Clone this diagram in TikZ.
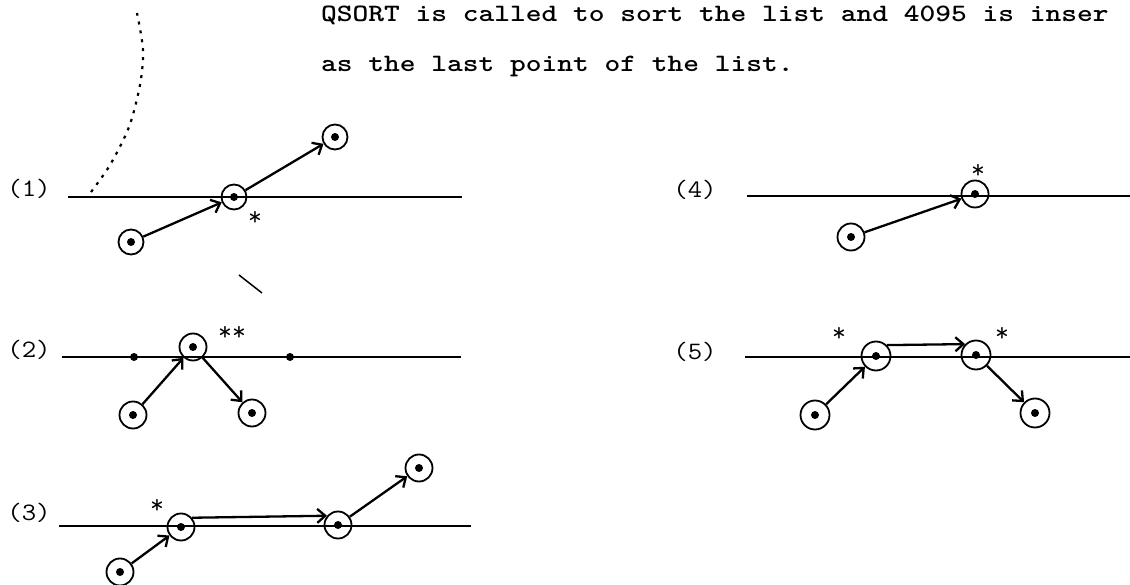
\documentclass[tikz,border=0pt]{standalone}
\usetikzlibrary{arrows.meta}
\tikzset{
  pt/.style={circle, draw, line width=1.8pt, minimum size=27pt, inner sep=0pt,
    path picture={\fill (path picture bounding box.center) circle (4pt);}},
  baseline/.style={line width=2.6pt},
  arr/.style={line width=2.3pt, -{Straight Barb[length=8pt,width=14pt,line width=2.3pt]}},
  lab/.style={font=\fontsize{25}{25}\selectfont\ttfamily, inner sep=0pt},
  star/.style={font=\fontsize{27}{27}\selectfont\ttfamily, inner sep=0pt},
  ldot/.style={circle, fill, minimum size=8pt, inner sep=0pt},
  txt/.style={font=\fontsize{25}{25}\selectfont\ttfamily\bfseries, inner sep=0pt, anchor=base west},
}
\begin{document}
\begin{tikzpicture}[x=1pt,y=-1pt]
\useasboundingbox (0,0) rectangle (1130,585);

% heading text
\node[txt] (t1) at (321,22) {\scalebox{1.2}[1]{QSORT is called to sort the list and 4095 is inser}};
\node[txt] (t2) at (321,72) {\scalebox{1.2}[1]{as the last point of the list.}};

% stray marks
\draw[line width=2.2pt, dash pattern=on 3pt off 6pt]
  plot[smooth] coordinates {(91,192) (110,165) (129,127) (140,85) (143,50) (137,13)};
\draw[line width=1.5pt] (239,275) -- (262,293);

% ---------- (1)
\node[lab] (l1) at (29,189) {\scalebox{1.12}[1]{(1)}};
\coordinate (a1) at (68,197);
\coordinate (b1) at (462,197);
\draw[baseline] (a1) -- (b1);
\node[pt, minimum size=25pt] (p1m) at (234,197) {};
\node[pt, minimum size=25pt] (p1l) at (131,242) {};
\node[pt, minimum size=25pt] (p1u) at (335,137) {};
\node[star] (s1) at (255,218) {*};
\draw[arr] (p1l) -- (p1m);
\draw[arr] (p1m) -- (p1u);

% ---------- (2)
\node[lab] (l2) at (29,350) {\scalebox{1.12}[1]{(2)}};
\coordinate (a2) at (62,357);
\coordinate (b2) at (461,357);
\draw[baseline] (a2) -- (b2);
\node[ldot] (d2a) at (134,357) {};
\node[ldot] (d2b) at (290,357) {};
\node[pt] (p2t) at (193,347) {};
\node[pt] (p2l) at (133,415) {};
\node[pt] (p2r) at (252,413) {};
\node[star] (s2) at (232,333) {**};
\draw[arr] (p2l) -- (p2t);
\draw[arr] (p2t) -- (p2r);

% ---------- (3)
\node[lab] (l3) at (29,513) {\scalebox{1.12}[1]{(3)}};
\coordinate (a3) at (59,526);
\coordinate (b3) at (471,526);
\draw[baseline] (a3) -- (b3);
\node[pt] (p3a) at (181,527) {};
\node[pt] (p3b) at (338,525) {};
\node[pt] (p3u) at (419,468) {};
\node[pt] (p3l) at (120,572) {};
\node[star] (s3) at (157,506) {*};
\draw[arr] (p3l) -- (p3a);
\draw[arr] (p3a.40) -- (p3b.140);
\draw[arr] (p3b) -- (p3u);

% ---------- (4)
\node[lab] (l4) at (695,190) {\scalebox{1.12}[1]{(4)}};
\coordinate (a4) at (747,196);
\coordinate (b4) at (1130,196);
\draw[baseline] (a4) -- (b4);
\node[pt] (p4c) at (975,194) {};
\node[pt] (p4l) at (851,237) {};
\node[star] (s4) at (978,171) {*};
\draw[arr] (p4l) -- (p4c);

% ---------- (5)
\node[lab] (l5) at (695,352) {\scalebox{1.12}[1]{(5)}};
\coordinate (a5) at (745,357);
\coordinate (b5) at (1130,357);
\draw[baseline] (a5) -- (b5);
\node[pt, minimum size=29pt] (p5a) at (876,356) {};
\node[pt, minimum size=29pt] (p5b) at (976,355) {};
\node[pt, minimum size=29pt] (p5l) at (815,415) {};
\node[pt, minimum size=29pt] (p5r) at (1035,413) {};
\node[star] (s5a) at (839,334) {*};
\node[star] (s5b) at (1002,334) {*};
\draw[arr] (p5l) -- (p5a);
\draw[arr] (p5a.45) -- (p5b.135);
\draw[arr] (p5b) -- (p5r);
\end{tikzpicture}
\end{document}
